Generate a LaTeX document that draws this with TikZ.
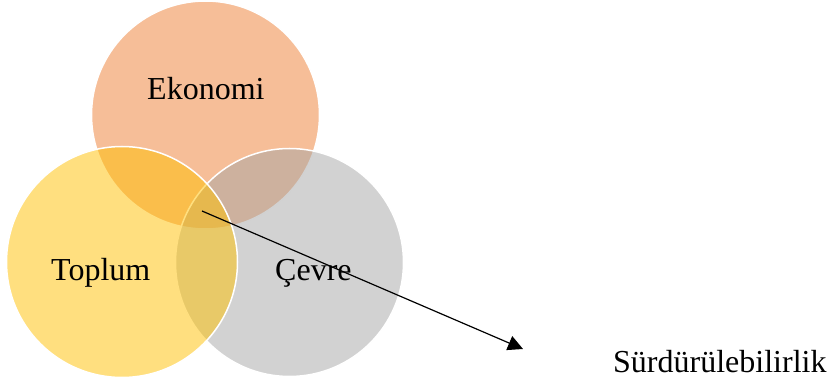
\documentclass[tikz,border=0pt]{standalone}
\usepackage{fontspec}
\setmainfont{Liberation Serif}
\usetikzlibrary{arrows.meta}
\definecolor{ekoC}{HTML}{ED7D31}
\definecolor{topC}{HTML}{FFC000}
\definecolor{cevC}{HTML}{A5A5A5}
\tikzset{
  venn/.style={circle, inner sep=0pt, draw=white, line width=1.5pt, fill opacity=0.5},
  lbl/.style={anchor=base west, inner sep=0pt, font=\fontsize{32}{36}\selectfont},
}
\begin{document}
\begin{tikzpicture}[x=1pt,y=-1pt]
\useasboundingbox (0,0) rectangle (830,385);
\node[venn, fill=ekoC, minimum size=228pt] (eko) at (205.5,115) {};
\node[venn, fill=cevC, minimum size=228pt] (cev) at (289.5,262.5) {};
\node[venn, fill=topC, minimum size=231pt] (top) at (122,262) {};
\node[lbl] (tEko) at (147,100) {Ekonomi};
\node[lbl] (tTop) at (51,280) {Toplum};
\node[lbl] (tCev) at (275,280) {Çevre};
\node[lbl] (tSur) at (613,372) {Sürdürülebilirlik};
\coordinate (aS) at (202,211);
\coordinate (aE) at (523,349);
\draw[line width=1.2pt, -{Triangle[length=15pt,width=15pt]}] (aS) -- (aE);
\end{tikzpicture}
\end{document}
